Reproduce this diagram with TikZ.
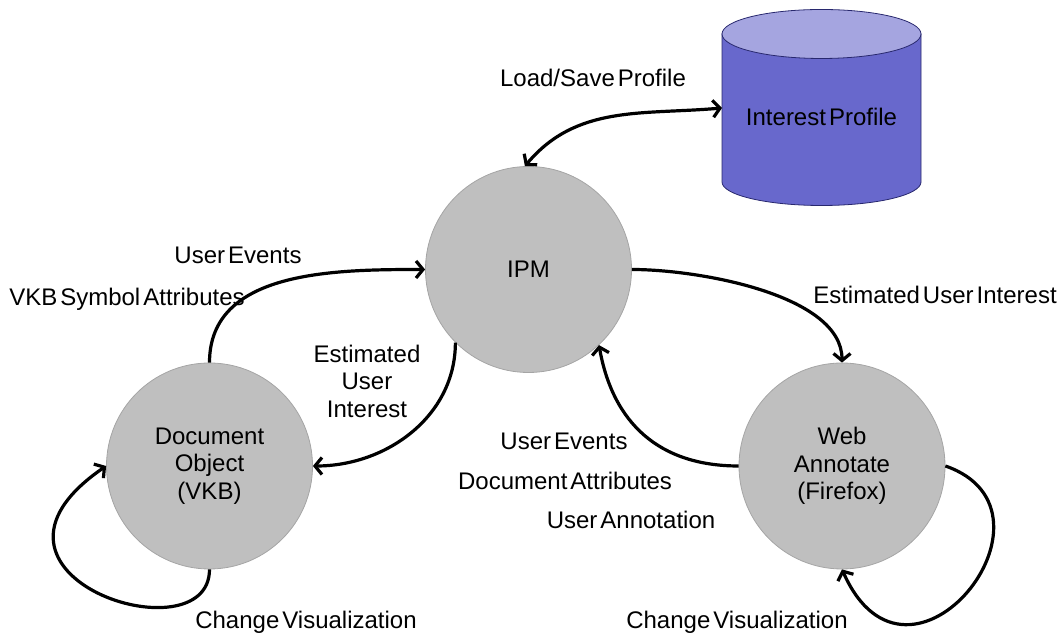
\documentclass[tikz,border=0pt]{standalone}
\usepackage{fontspec}
\setmainfont{Liberation Sans}[WordSpace=0.45]
\usetikzlibrary{arrows.meta}

\definecolor{stategray}{RGB}{191,191,191}
\definecolor{stateline}{RGB}{165,165,165}
\definecolor{dbbody}{RGB}{104,104,204}
\definecolor{dbtop}{RGB}{165,165,224}
\definecolor{dbline}{RGB}{40,40,110}

\begin{document}
\begin{tikzpicture}[x=1pt, y=1pt,
  every node/.style={font=\fontsize{24}{27.5}\selectfont},
  state/.style={circle, fill=stategray, draw=stateline, line width=0.8pt,
    minimum size=206pt, inner sep=0pt, align=center},
  store/.style={minimum width=199pt, minimum height=148pt, outer sep=0pt},
  dbshape/.style={draw=dbline, line width=0.8pt},
  flow/.style={line width=3.2pt, -{Straight Barb[length=7pt,width=17pt]}},
  flowboth/.style={line width=3.2pt,
    {Straight Barb[length=7pt,width=17pt]}-{Straight Barb[length=7pt,width=17pt]}},
  lbl/.style={align=center}]
\useasboundingbox (0,0) rectangle (1061,636);

% components
\node (ipm) [state] at (528.5,366.5) {IPM};
\node (doc) [state] at (209.5,170) {Document\\Object\\(VKB)};
\node (web) [state] at (842,170) {Web\\Annotate\\(Firefox)};
\node (profile) [store] at (821.5,528) {};
\filldraw [dbshape, fill=dbbody] (profile.north west) -- (profile.south west)
  arc [start angle=180, end angle=360, x radius=99.5, y radius=23.5]
  -- (profile.north east) -- cycle;
\filldraw [dbshape, fill=dbtop] (profile.north) ellipse [x radius=99.5, y radius=24.5];
\node (proftext) at ([yshift=-9pt]profile.center) {Interest Profile};

% labels
\node (loadsave) [lbl] at (593,558) {Load/Save Profile};
\node (evleft) [lbl] at (238,381) {User Events};
\node (vkbattr) [lbl] at (127,337) {VKB Symbol Attributes};
\node (estleft) [lbl] at (367,255) {Estimated\\User\\Interest};
\node (estright) [lbl] at (935,341) {Estimated User Interest};
\node (evright) [lbl] at (564,195) {User Events};
\node (docattr) [lbl] at (565,155) {Document Attributes};
\node (annot) [lbl] at (631,116) {User Annotation};
\node (visleft) [lbl] at (306,14) {Change Visualization};
\node (visright) [lbl] at (737,14) {Change Visualization};

% flows
\path [flowboth] (ipm.92) edge [out=50, in=185] (profile.west);
\path [flow] (doc.north) edge [out=90, in=180] (ipm.west);
\path [flow] (ipm.225) edge [out=270, in=0] (doc.east);
\path [flow] (ipm.east) edge [out=0, in=90, looseness=0.75] (web.north);
\path [flow] (web.west) edge [out=180, in=280, looseness=1.1] (ipm.313);
\draw [flow] (doc.south) .. controls +(0,-90) and +(-160,-110) .. (doc.west);
\draw [flow] (web.east) .. controls +(130,-45) and +(67,-151) .. (web.south);
\end{tikzpicture}
\end{document}
